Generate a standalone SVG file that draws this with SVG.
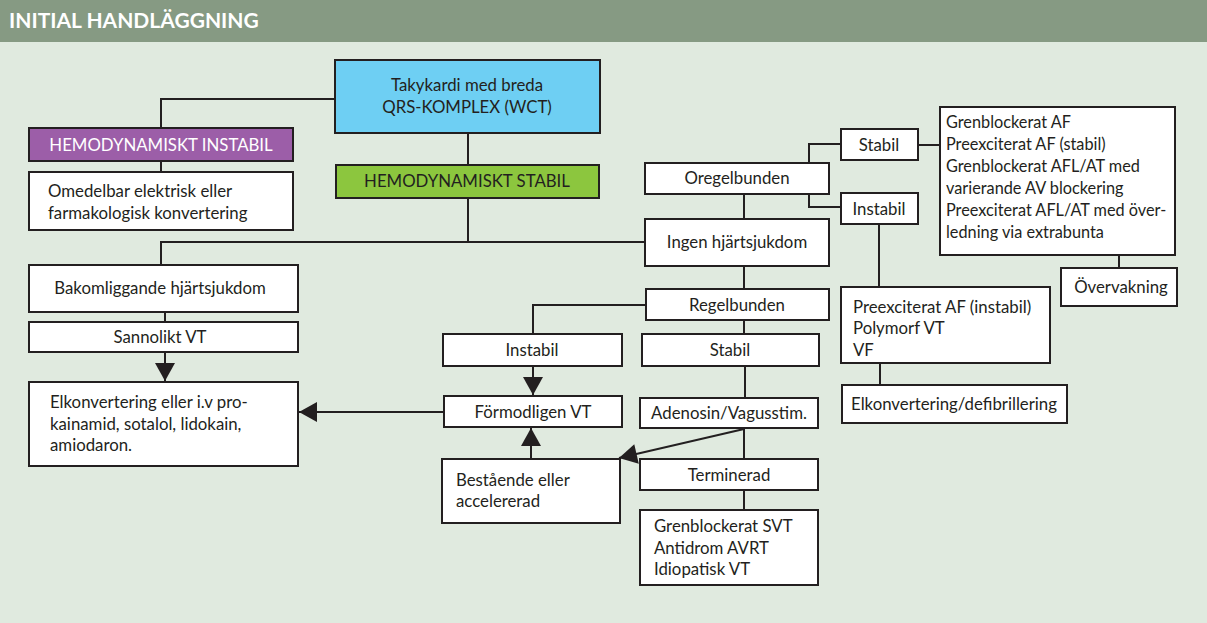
<svg xmlns="http://www.w3.org/2000/svg" width="1207" height="623" viewBox="0 0 1207 623">
<defs>
<style>
.bx{fill:#ffffff;stroke:#231f20;stroke-width:2}
.t{font-family:Lato,"Open Sans","Liberation Sans",sans-serif;font-size:16.8px;fill:#231f20}
.s{font-size:16.3px}
.c{text-anchor:middle}
.ln{fill:none;stroke:#231f20;stroke-width:2}
</style>
<marker id="ah" markerUnits="userSpaceOnUse" markerWidth="20" markerHeight="20" viewBox="0 0 18 20" refX="18" refY="10" orient="auto">
<path d="M0,0 L18,10 L0,20 z" fill="#231f20"/>
</marker>
</defs>
<rect x="0" y="0" width="1207" height="623" fill="#e0eadf"/>
<rect x="0" y="0" width="1207" height="42" fill="#869a83"/>
<text x="9" y="28" style="font-family:Lato,'Open Sans','Liberation Sans',sans-serif;font-size:21px;font-weight:bold;fill:#ffffff">INITIAL HANDLÄGGNING</text>

<g id="connectors">
<path class="ln" d="M335,99 H161 V128"/>
<path class="ln" d="M161,161 V172"/>
<path class="ln" d="M468,133 V165"/>
<path class="ln" d="M468,198 V242"/>
<path class="ln" d="M161,265 V242 H645"/>
<path class="ln" d="M165,312 V322"/>
<path class="ln" d="M165,352 V381" marker-end="url(#ah)"/>
<path class="ln" d="M444,412 H299" marker-end="url(#ah)"/>
<path class="ln" d="M744,219 V194"/>
<path class="ln" d="M809,163 V144 H841"/>
<path class="ln" d="M809,194 V207 H841"/>
<path class="ln" d="M918,145 H940"/>
<path class="ln" d="M1119,255 V268"/>
<path class="ln" d="M879,224 V287"/>
<path class="ln" d="M880,363 V385"/>
<path class="ln" d="M744,266 V289"/>
<path class="ln" d="M646,305 H533 V334"/>
<path class="ln" d="M533,366 V395" marker-end="url(#ah)"/>
<path class="ln" d="M744,320 V334"/>
<path class="ln" d="M745,366 V398"/>
<path class="ln" d="M744,428 V459"/>
<path class="ln" d="M744,490 V510"/>
<path class="ln" d="M744,429 L619,458" marker-end="url(#ah)"/>
<path class="ln" d="M531,459 V428" marker-end="url(#ah)"/>
</g>

<g id="n-wct">
<rect x="335" y="60" width="265" height="73" fill="#6ecff3" stroke="#231f20" stroke-width="2"/>
<text class="t c" x="467" y="91">Takykardi med breda</text>
<text class="t c" x="467" y="113">QRS-KOMPLEX (WCT)</text>
</g>
<g id="n-instabil-hd">
<rect x="29" y="128" width="264" height="33" fill="#9c5ea8" stroke="#231f20" stroke-width="2"/>
<text class="t c" x="161" y="151" style="fill:#ffffff">HEMODYNAMISKT INSTABIL</text>
</g>
<g id="n-stabil-hd">
<rect x="336" y="165" width="263" height="33" fill="#8cc63e" stroke="#231f20" stroke-width="2"/>
<text class="t c" x="467" y="187">HEMODYNAMISKT STABIL</text>
</g>
<g id="n-omedelbar">
<rect class="bx" x="29" y="172" width="264" height="58"/>
<text class="t" x="48" y="197">Omedelbar elektrisk eller</text>
<text class="t" x="48" y="219">farmakologisk konvertering</text>
</g>
<g id="n-bakom">
<rect class="bx" x="29" y="265" width="269" height="47"/>
<text class="t c" x="160" y="294">Bakomliggande hjärtsjukdom</text>
</g>
<g id="n-sannolikt">
<rect class="bx" x="29" y="322" width="269" height="30"/>
<text class="t c" x="160" y="343">Sannolikt VT</text>
</g>
<g id="n-elkonv">
<rect class="bx" x="29" y="382" width="269" height="84"/>
<text class="t" x="50" y="408">Elkonvertering eller i.v pro-</text>
<text class="t" x="50" y="430">kainamid, sotalol, lidokain,</text>
<text class="t" x="50" y="451">amiodaron.</text>
</g>
<g id="n-ingen">
<rect class="bx" x="645" y="219" width="184" height="47"/>
<text class="t c" x="737" y="248">Ingen hjärtsjukdom</text>
</g>
<g id="n-oregel">
<rect class="bx" x="645" y="163" width="184" height="31"/>
<text class="t c" x="737" y="184">Oregelbunden</text>
</g>
<g id="n-stabil-r">
<rect class="bx" x="841" y="129" width="77" height="31"/>
<text class="t c" x="879" y="151">Stabil</text>
</g>
<g id="n-instabil-r">
<rect class="bx" x="841" y="193" width="77" height="31"/>
<text class="t c" x="879" y="215">Instabil</text>
</g>
<g id="n-grenaf">
<rect class="bx" x="940" y="107" width="235" height="148"/>
<text class="t s" x="946" y="128">Grenblockerat AF</text>
<text class="t s" x="946" y="150">Preexciterat AF (stabil)</text>
<text class="t s" x="946" y="172">Grenblockerat AFL/AT med</text>
<text class="t s" x="946" y="194">varierande AV blockering</text>
<text class="t s" x="946" y="216">Preexciterat AFL/AT med över-</text>
<text class="t s" x="946" y="238">ledning via extrabunta</text>
</g>
<g id="n-overvakning">
<rect class="bx" x="1061" y="268" width="116" height="38"/>
<text class="t c" x="1121" y="293">Övervakning</text>
</g>
<g id="n-preexc">
<rect class="bx" x="841" y="287" width="209" height="76"/>
<text class="t" x="853" y="313">Preexciterat AF (instabil)</text>
<text class="t" x="853" y="334">Polymorf VT</text>
<text class="t" x="853" y="356">VF</text>
</g>
<g id="n-defib">
<rect class="bx" x="842" y="385" width="225" height="38"/>
<text class="t c" x="954" y="410">Elkonvertering/defibrillering</text>
</g>
<g id="n-regel">
<rect class="bx" x="646" y="289" width="183" height="31"/>
<text class="t c" x="737" y="311">Regelbunden</text>
</g>
<g id="n-instabil-m">
<rect class="bx" x="443" y="334" width="179" height="32"/>
<text class="t c" x="532" y="356">Instabil</text>
</g>
<g id="n-stabil-m">
<rect class="bx" x="642" y="334" width="177" height="32"/>
<text class="t c" x="730" y="356">Stabil</text>
</g>
<g id="n-formodligen">
<rect class="bx" x="444" y="396" width="178" height="31"/>
<text class="t c" x="533" y="418">Förmodligen VT</text>
</g>
<g id="n-adenosin">
<rect class="bx" x="640" y="398" width="178" height="30"/>
<text class="t c" x="729" y="419">Adenosin/Vagusstim.</text>
</g>
<g id="n-bestaende">
<rect class="bx" x="442" y="459" width="178" height="64"/>
<text class="t" x="456" y="486">Bestående eller</text>
<text class="t" x="456" y="507">accelererad</text>
</g>
<g id="n-terminerad">
<rect class="bx" x="640" y="459" width="178" height="31"/>
<text class="t c" x="729" y="481">Terminerad</text>
</g>
<g id="n-grensvt">
<rect class="bx" x="640" y="510" width="178" height="75"/>
<text class="t" x="654" y="532">Grenblockerat SVT</text>
<text class="t" x="654" y="554">Antidrom AVRT</text>
<text class="t" x="654" y="575">Idiopatisk VT</text>
</g>
</svg>
